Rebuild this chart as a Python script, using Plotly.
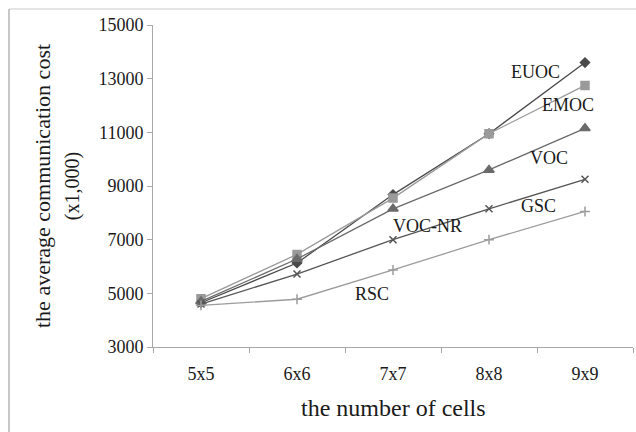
import plotly.graph_objects as go

categories = ["5x5", "6x6", "7x7", "8x8", "9x9"]
euoc = [4650, 6130, 8680, 10950, 13600]
emoc = [4800, 6450, 8550, 10950, 12750]
voc = [4700, 6280, 8150, 9600, 11150]
gsc = [4600, 5720, 7000, 8150, 9250]
rsc = [4550, 4780, 5870, 7000, 8050]
y_ticks = [3000, 5000, 7000, 9000, 11000, 13000, 15000]
y_tick_text = ["3000", "5000", "7000", "9000", "11000", "13000", "15000"]

series = [
    ("EUOC", euoc, "#4a4a4a", "diamond", 7),
    ("EMOC", emoc, "#9a9a9a", "square", 8),
    ("VOC", voc, "#6a6a6a", "triangle-up", 9),
    ("GSC", gsc, "#555555", "x-thin-open", 7),
    ("RSC", rsc, "#9c9c9c", "cross-thin-open", 7),
]

fig = go.Figure()
for name, vals, col, sym, sz in series:
    fig.add_trace(go.Scatter(
        x=categories, y=vals, mode="lines+markers", name=name,
        line=dict(color=col, width=1.3),
        marker=dict(symbol=sym, size=sz, color=col, line=dict(color=col, width=1.5)),
    ))

serif = "Liberation Serif, Times New Roman, serif"
labels = [
    ("EUOC", 3.48, 13250),
    ("EMOC", 3.82, 12020),
    ("VOC", 3.63, 10045),
    ("GSC", 3.52, 8255),
    ("VOC-NR", 2.36, 7510),
    ("RSC", 1.78, 4975),
]
annotations = [
    dict(x=x, y=y, xref="x", yref="y", text=t, showarrow=False,
         font=dict(family=serif, size=18, color="#1a1a1a"))
    for t, x, y in labels
]
annotations.append(dict(
    x=-0.2, y=0.5, xref="paper", yref="paper", xanchor="center", yanchor="middle",
    text="the average communication cost<br><span style='font-size:20px'>(x1,000)</span>",
    textangle=-90, showarrow=False,
    font=dict(family=serif, size=22, color="#1a1a1a"),
))
annotations.append(dict(
    x=0.5, y=-0.19, xref="paper", yref="paper", xanchor="center", yanchor="middle",
    text="the number of cells", showarrow=False,
    font=dict(family=serif, size=24, color="#1a1a1a"),
))

fig.update_layout(
    width=636, height=432,
    margin=dict(l=153, r=3, t=25, b=85),
    paper_bgcolor="white", plot_bgcolor="white",
    showlegend=False,
    annotations=annotations,
    shapes=[
        dict(type="line", xref="paper", yref="paper", x0=-0.3, x1=1.01, y0=1.0497, y1=1.0497,
             line=dict(color="#dcdcdc", width=1.5)),
        dict(type="line", xref="paper", yref="paper", x0=-0.3, x1=-0.3, y0=1.0497, y1=-0.27,
             line=dict(color="#b4b4b4", width=1.5)),
    ],
)
fig.update_xaxes(
    type="category", range=[-0.5, 4.5], tickson="boundaries", ticks="outside", ticklen=5,
    tickcolor="#a8a8a8", showline=True, linecolor="#a8a8a8", linewidth=1,
    showgrid=False, ticklabelstandoff=10,
    tickfont=dict(family=serif, size=18, color="#1a1a1a"),
)
fig.update_yaxes(
    range=[3000, 15000], tickvals=y_ticks, ticktext=y_tick_text, ticks="outside", ticklen=5,
    tickcolor="#a8a8a8", showline=True, linecolor="#a8a8a8", linewidth=1,
    showgrid=False, zeroline=False, tickfont=dict(family=serif, size=18, color="#1a1a1a"),
)

fig.write_html("out.html")
